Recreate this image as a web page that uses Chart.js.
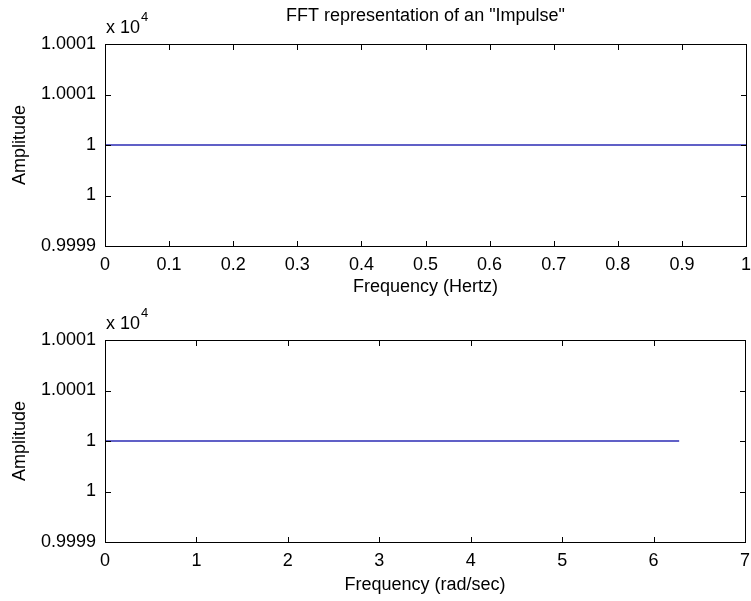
<!DOCTYPE html>
<html>
<head>
<meta charset="utf-8">
<script src="https://cdn.jsdelivr.net/npm/chart.js@4.4.1/dist/chart.umd.min.js"></script>
<style>
  html, body { margin: 0; padding: 0; background: #fff; }
  body { width: 751px; height: 601px; position: relative; overflow: hidden; }
  canvas { position: absolute; left: 0; }
  #topChart { top: 0; }
  #bottomChart { top: 300px; }
</style>
</head>
<body>
<canvas id="topChart" width="751" height="300"></canvas>
<canvas id="bottomChart" width="751" height="301"></canvas>
<script>
// data
const hzFreq = [0, 1];
const hzAmp = [10000, 10000];
const radFreq = [0, 6.28];
const radAmp = [10000, 10000];

// tick labels
const hzTicks = ['0', '0.1', '0.2', '0.3', '0.4', '0.5', '0.6', '0.7', '0.8', '0.9', '1'];
const radTicks = ['0', '1', '2', '3', '4', '5', '6', '7'];
const ampTicks = ['0.9999', '1', '1', '1.0001', '1.0001'];

const FONT = '"Liberation Sans", Arial, sans-serif';
Chart.defaults.font.family = FONT;
Chart.defaults.font.size = 18;
Chart.defaults.color = '#000';

// matlab style box, inward ticks and the "x 10^4" multiplier
const boxPlugin = {
    id: 'matlabBox',
    afterDraw(chart) {
        const ctx = chart.ctx;
        const a = chart.chartArea;
        const x = chart.scales.x, y = chart.scales.y;
        const L = Math.round(a.left), R = Math.round(a.right);
        const T = Math.round(a.top), B = Math.round(a.bottom);
        ctx.save();
        ctx.fillStyle = '#000';
        // box
        ctx.fillRect(L, T, R - L + 1, 1);
        ctx.fillRect(L, B, R - L + 1, 1);
        ctx.fillRect(L, T, 1, B - T + 1);
        ctx.fillRect(R, T, 1, B - T + 1);
        // ticks pointing inward
        x.ticks.forEach(t => {
            const px = Math.round(x.getPixelForValue(t.value));
            ctx.fillRect(px, B - 5, 1, 5);
            ctx.fillRect(px, T + 1, 1, 5);
        });
        y.ticks.forEach(t => {
            const py = Math.round(y.getPixelForValue(t.value));
            ctx.fillRect(L + 1, py, 5, 1);
            ctx.fillRect(R - 5, py, 5, 1);
        });

        ctx.textBaseline = 'middle';
        ctx.textAlign = 'left';
        ctx.font = '18px ' + FONT;
        ctx.fillText('x 10', a.left + 1, a.top - 16);
        const w = ctx.measureText('x 10').width;
        ctx.font = '13px ' + FONT;
        ctx.fillText('4', a.left + 2 + w, a.top - 27);
        ctx.restore();
    }
};

function makeChart(id, xs, ys, xMin, xMax, xStep, xLabels, xTitle, opts) {
    return new Chart(id, {
        type: 'line',
        data: {
            datasets: [{
                data: xs.map((v, i) => ({ x: v, y: ys[i] })),
                borderColor: '#2b2bb5',
                borderWidth: 1.5,
                pointRadius: 0,
                fill: false
            }]
        },
        options: {
            responsive: false,
            animation: false,
            layout: { padding: opts.padding },
            plugins: {
                legend: { display: false },
                tooltip: { enabled: false },
                title: opts.title
            },
            scales: {
                x: {
                    type: 'linear',
                    min: xMin,
                    max: xMax,
                    grid: { display: false, drawTicks: false },
                    border: { display: false },
                    ticks: {
                        stepSize: xStep,
                        autoSkip: false,
                        maxRotation: 0,
                        padding: 8,
                        callback: (v, i) => xLabels[i]
                    },
                    title: {
                        display: true,
                        text: xTitle,
                        padding: { top: 0, bottom: opts.xTitlePad }
                    },
                    afterFit: s => {
                        s.height = opts.xHeight;
                        s.paddingLeft = 0;
                        s.paddingRight = 0;
                    }
                },
                y: {
                    min: 9999,
                    max: 10001,
                    grid: { display: false, drawTicks: false },
                    border: { display: false },
                    ticks: {
                        stepSize: 0.5,
                        padding: 9,
                        callback: (v, i) => ampTicks[i]
                    },
                    title: {
                        display: true,
                        text: 'Amplitude',
                        padding: { top: 9, bottom: 0 }
                    },
                    afterFit: s => {
                        s.width = 105;
                        s.paddingTop = 0;
                        s.paddingBottom = 0;
                    }
                }
            }
        },
        plugins: [boxPlugin]
    });
}

makeChart('topChart', hzFreq, hzAmp, 0, 1, 0.1, hzTicks, 'Frequency (Hertz)', {
    padding: { top: 0, right: 5, bottom: 0, left: 0 },
    xHeight: 54,
    xTitlePad: 2,
    title: {
        display: true,
        text: 'FFT representation of an "Impulse"',
        fullSize: false,
        font: { size: 18, weight: 'normal' },
        padding: { top: 5, bottom: 17.4 }
    }
});

makeChart('bottomChart', radFreq, radAmp, 0, 7, 1, radTicks, 'Frequency (rad/sec)', {
    padding: { top: 40, right: 6, bottom: 0, left: 0 },
    xHeight: 59,
    xTitlePad: 5,
    title: { display: false }
});
</script>
</body>
</html>
